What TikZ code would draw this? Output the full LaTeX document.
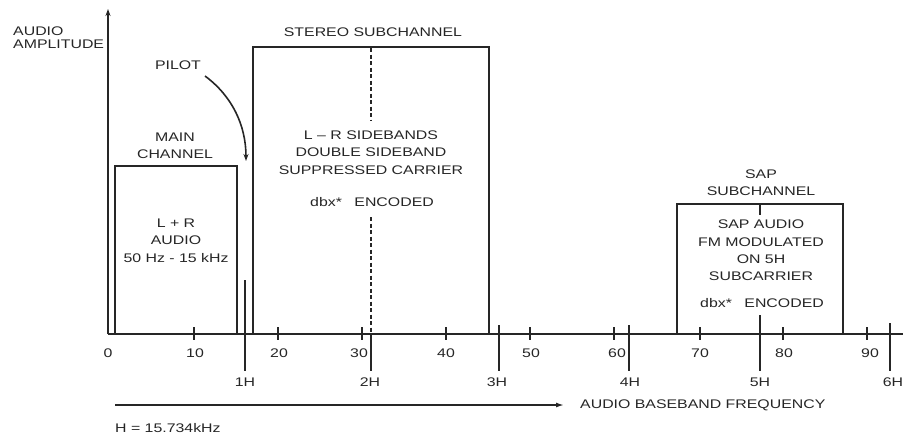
\documentclass[tikz,border=0pt]{standalone}
\usepackage{fontspec}
\newfontfamily\wf[FakeStretch=1.27,Ligatures=TeX]{Liberation Sans}
\usetikzlibrary{arrows.meta}
\tikzset{
  lbl/.style={font=\wf\fontsize{12.5}{17.3}\selectfont, inner sep=0pt, align=center, text=black!85},
  lbll/.style={lbl, anchor=west, align=left},
  frame/.style={line width=2pt, black!85},
  smalltick/.style={line width=2.6pt, black!85},
  htick/.style={line width=2pt, black!85},
  axis/.style={line width=2pt, black!85},
}
\begin{document}
\begin{tikzpicture}[x=1pt,y=-1pt]
\useasboundingbox (0,0) rectangle (910,439);
% axes
\coordinate (o) at (108,334);
\coordinate (ytop) at (108,9);
\coordinate (xend) at (903,334);
\draw[axis,-{Stealth[length=7pt,width=5pt]}] (o) -- (ytop);
\draw[axis] (o) -- (xend);
\node[lbll] (ya1) at (13,31) {AUDIO};
\node[lbll] (ya2) at (13,44) {AMPLITUDE};
% boxes
\draw[frame] (115,334) -- (115,166) -- (237,166) -- (237,334);
\draw[frame] (253,334) -- (253,47) -- (489,47) -- (489,334);
\draw[frame] (677,334) -- (677,204) -- (843,204) -- (843,334);
% small ticks
\foreach \x in {194,278,362,446,530,614,700,783,867}
  \draw[smalltick] (\x,327) -- (\x,340);
% numbers
\foreach \x/\t in {108/0,195/10,279/20,359/30,446/40,531/50,617/60,700/70,784/80,870/90}
  \node[lbl] at (\x,353) {\t};
% H ticks
\draw[htick] (245,280) -- (245,371);
\draw[htick,dash pattern=on 4pt off 2.5pt] (371,48) -- (371,120);
\draw[htick,dash pattern=on 4pt off 2.5pt] (371,217) -- (371,334);
\draw[htick] (371,334) -- (371,371);
\draw[htick] (499,325) -- (499,371);
\draw[htick] (629,325) -- (629,371);
\draw[htick] (760,315) -- (760,371);
\draw[htick] (760,204) -- (760,215);
\draw[htick] (890,323) -- (890,371);
\foreach \x/\t in {245/1H,370/2H,497/3H,630/4H,760/5H,893/6H}
  \node[lbl] at (\x,382) {\t};
% labels
\node[lbl] (pilot) at (178,65) {PILOT};
\coordinate (ptip) at (246,161);
\draw[line width=1.6pt,black!85,-{Stealth[length=7pt,width=5pt]}] (205,76) .. controls (232,96) and (246,125) .. (ptip);
\node[lbl] (mainlbl) at (175,146) {MAIN\\CHANNEL};
\node[lbl] (maintxt) at (176,240.5) {L + R\\AUDIO\\50 Hz - 15 kHz};
\node[lbl] (stlbl) at (373,32) {STEREO SUBCHANNEL};
\node[lbl] (sttxt) at (371,152.5) {L \textendash{} R SIDEBANDS\\DOUBLE SIDEBAND\\SUPPRESSED CARRIER};
\node[lbl] (stdbx) at (372,202) {dbx*\quad ENCODED};
\node[lbl] (saplbl) at (761,183) {SAP\\SUBCHANNEL};
\node[lbl] (saptxt) at (761,250.5) {SAP AUDIO\\FM MODULATED\\ON 5H\\SUBCARRIER};
\node[lbl] (sapdbx) at (762,303) {dbx*\quad ENCODED};
% frequency arrow
\coordinate (fa) at (115,405);
\coordinate (fb) at (564,405);
\draw[line width=1.5pt,black!85,-{Latex[length=8pt,width=5pt]}] (fa) -- (fb);
\node[lbll] (freq) at (580,405) {AUDIO BASEBAND FREQUENCY};
\node[lbll] (hdef) at (115,428) {H = 15.734kHz};
\end{tikzpicture}
\end{document}
